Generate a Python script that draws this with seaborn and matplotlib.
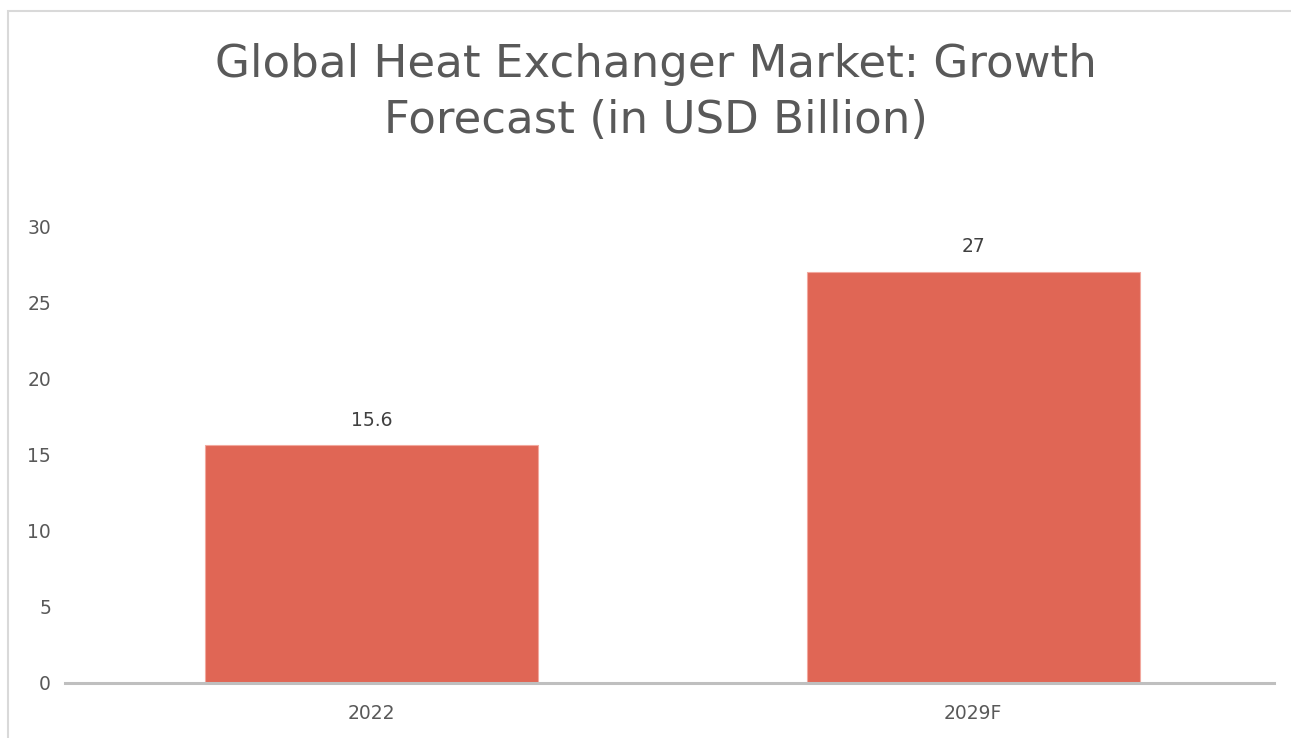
import matplotlib
matplotlib.use('Agg')
import matplotlib.pyplot as plt
import seaborn as sns
import pandas as pd
from matplotlib.patches import Rectangle

# chart data
years = ['2022', '2029F']
market_size = [15.6, 27]
value_labels = ['15.6', '27']

sns.set_theme(style='white')
plt.rcParams['font.family'] = ['DejaVu Sans']

df = pd.DataFrame({'year': years, 'size': market_size})

fig = plt.figure(figsize=(12.91, 7.38), dpi=100)
ax = fig.add_axes([65 / 1291, 1 - 683 / 738, (1274 - 65) / 1291, (683 - 226) / 738])

sns.barplot(data=df, x='year', y='size', color='#E06655', saturation=1,
            width=0.553, edgecolor='#F2A89E', linewidth=0.8, ax=ax)

for i, (v, lab) in enumerate(zip(market_size, value_labels)):
    ax.annotate(lab, (i, v), xytext=(0, 11), textcoords='offset points',
                ha='center', va='bottom', fontsize=13.5, color='#404040')

ax.set_xlim(-0.51, 1.5)
ax.set_ylim(0, 30)
ax.set_yticks(range(0, 31, 5))
ax.set_xlabel('')
ax.set_ylabel('')
ax.tick_params(axis='both', length=0, labelsize=13.5, labelcolor='#595959')
ax.tick_params(axis='x', pad=15)
ax.tick_params(axis='y', pad=10)
for s in ['top', 'right', 'left']:
    ax.spines[s].set_visible(False)
ax.spines['bottom'].set_color('#BFBFBF')
ax.spines['bottom'].set_linewidth(2.2)
ax.grid(False)

fig.text(0.5 + 10 / 1291, 1 - 133 / 738, 'Global Heat Exchanger Market: Growth\nForecast (in USD Billion)',
         ha='center', va='baseline', fontsize=32.5, color='#595959',
         linespacing=1.38)

# outer chart border (cropped at right and bottom like the reference)
fig.patches.append(Rectangle((8 / 1291, -0.05), 1.1, 1 - 11 / 738 + 0.05,
                             transform=fig.transFigure, fill=False,
                             edgecolor='#D9D9D9', linewidth=1.5))

fig.savefig('out.png', dpi=100)
